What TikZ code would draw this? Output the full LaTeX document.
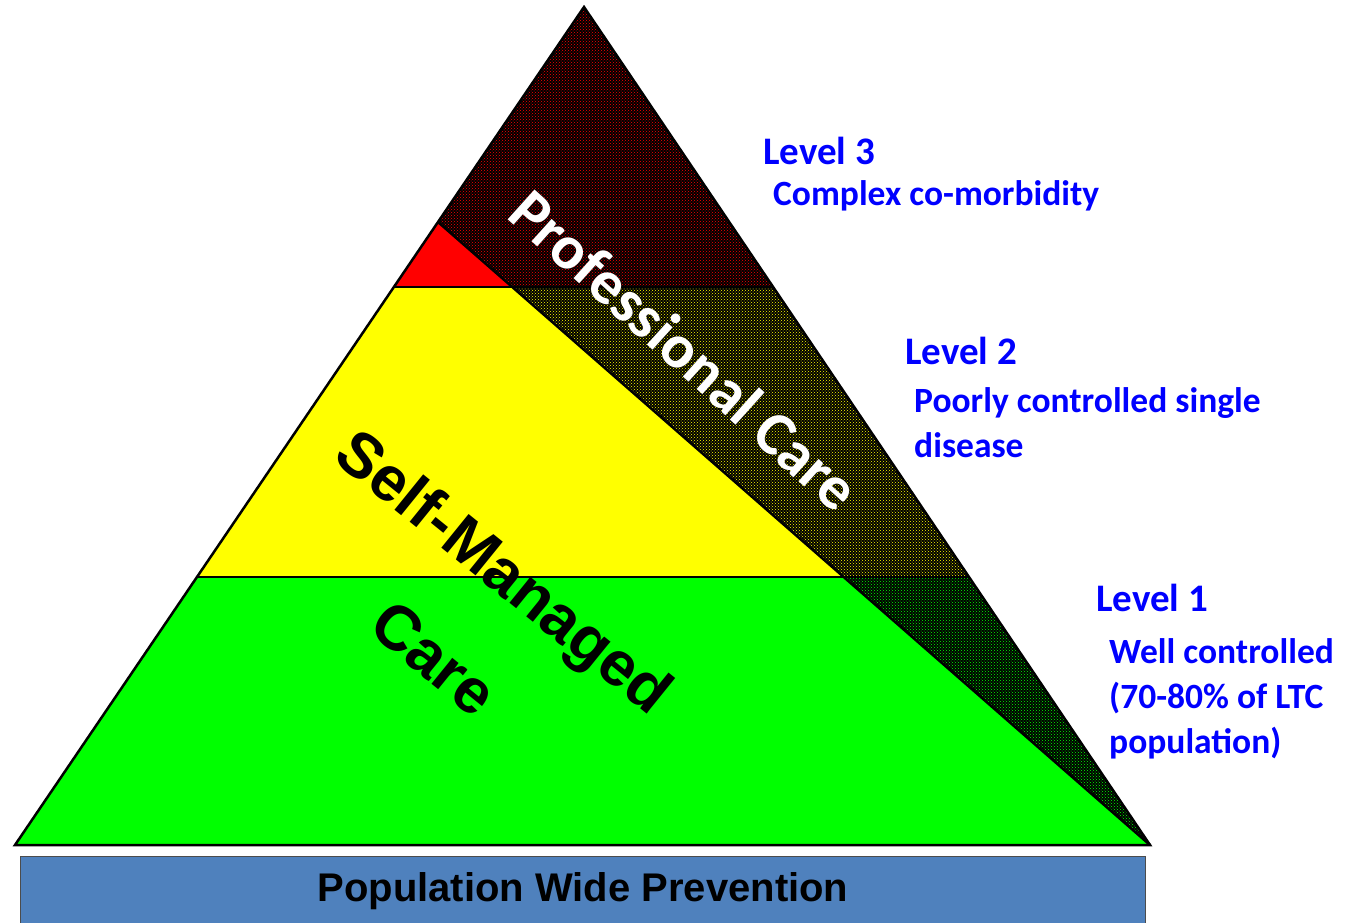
\documentclass[tikz,border=0pt]{standalone}
\usepackage{fontspec}
\usepackage{xcolor}
\usepackage{tikz}
\usetikzlibrary{patterns}
\newfontfamily\calibrifont{Carlito}
\newfontfamily\arialfont{Liberation Sans}
\definecolor{barblue}{HTML}{4F81BD}
\definecolor{bandred}{RGB}{255,0,0}
\definecolor{bandyellow}{RGB}{255,255,0}
\definecolor{bandgreen}{RGB}{0,255,0}
\definecolor{lvlblue}{RGB}{0,0,255}

\begin{document}
\begin{tikzpicture}[
  x=1pt, y=-1pt,
  edge/.style={draw=black, line width=2.5pt, line join=miter},
  shade/.style={fill=black, postaction={pattern=crosshatch dots, pattern color=#1}},
  lvl/.style={anchor=base west, inner sep=0pt, text=lvlblue, font=\calibrifont\bfseries\fontsize{39}{45}\selectfont},
  desc/.style={anchor=base west, inner sep=0pt, text=lvlblue, align=left, font=\calibrifont\bfseries\fontsize{35.5}{45}\selectfont}
]
\useasboundingbox (0,0) rectangle (1351,922);

% corners of the pyramid
\coordinate (top) at (584,7);
\coordinate (bl) at (15,845);
\coordinate (br) at (1150,845);
\coordinate (cut) at (438,222);
\coordinate (l2) at (394,287);
\coordinate (m2) at (514,287);
\coordinate (r2) at (773,287);
\coordinate (l1) at (197,577);
\coordinate (m1) at (845,577);
\coordinate (r1) at (969,577);

% bands
\fill[bandred] (cut) -- (l2) -- (m2) -- cycle;
\fill[bandyellow] (l2) -- (m2) -- (m1) -- (l1) -- cycle;
\fill[bandgreen] (l1) -- (m1) -- (br) -- (bl) -- cycle;
\path[shade=bandred] (top) -- (cut) -- (m2) -- (r2) -- cycle;
\path[shade=bandyellow] (m2) -- (r2) -- (r1) -- (m1) -- cycle;
\path[shade=bandgreen] (m1) -- (r1) -- (br) -- cycle;

\draw[edge] (top) -- (bl) -- (br) -- cycle;
\draw[edge] (l2) -- (r2);
\draw[edge] (l1) -- (r1);
\draw[edge] (cut) -- (br);

% base bar
\node[draw=black!70, line width=1pt, fill=barblue, minimum width=1125pt, minimum height=80pt, anchor=north west, inner sep=0pt] (bar) at (20,856) {};
\node[anchor=base, inner sep=0pt, font=\arialfont\bfseries\fontsize{40}{48}\selectfont] (prev) at (583,901) {Population Wide Prevention};

% slanted titles
\node[rotate=-42, text=white, inner sep=0pt, font=\calibrifont\bfseries\fontsize{62}{70}\selectfont] (prof) at (685,350) {Professional Care};
\node[rotate=-39, align=center, inner sep=0pt, font=\arialfont\bfseries\fontsize{63}{112}\selectfont] (self) at (470,614) {Self-Managed\\Care};

% levels (multi-line texts are placed by their last line)
\node[lvl] (lvlthree) at (763,164) {Level 3};
\node[desc] (descthree) at (773,205) {Complex co-morbidity};
\node[lvl] (lvltwo) at (905,364) {Level 2};
\node[desc] (desctwo) at (914,457) {Poorly controlled single\\disease};
\node[lvl] (lvlone) at (1096,611) {Level 1};
\node[desc] (descone) at (1109,753) {Well controlled\\(70-80\% of LTC\\population)};
\end{tikzpicture}
\end{document}
